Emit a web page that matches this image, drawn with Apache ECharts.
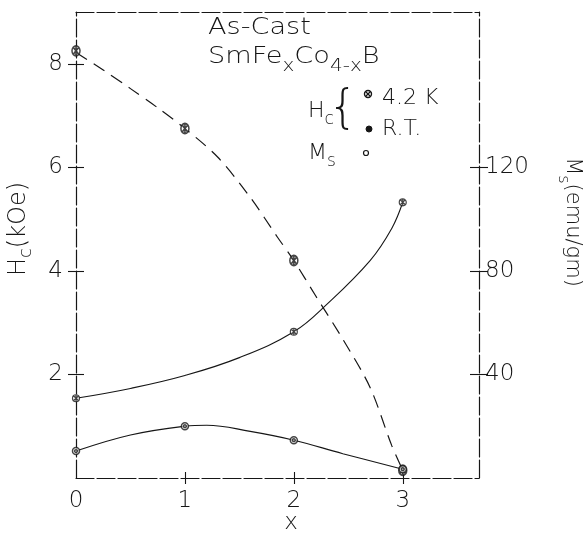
<!DOCTYPE html>
<html>
<head>
<meta charset="utf-8">
<script src="https://cdn.jsdelivr.net/npm/echarts@6/dist/echarts.min.js"></script>
<style>
  html, body { margin: 0; padding: 0; background: #fff; }
  #chart { width: 586px; height: 536px; }
</style>
</head>
<body>
<div id="chart"></div>
<script>
// Tick values on each axis
const xTickValues = [0, 1, 2, 3];
const hcTickValues = [2, 4, 6, 8];
const msTickValues = [40, 80, 120];

// Coercivity at 4.2 K (kOe): measured points and the dashed guide curve
const hcLowX = [0, 1, 2, 3];
const hcLowY = [8.25, 6.75, 4.2, 0.15];
const hcLowCurveX = [0, 0.25, 0.5, 0.75, 1, 1.3, 1.6, 1.85, 2, 2.2, 2.45, 2.7, 2.9, 3];
const hcLowCurveY = [8.22, 7.88, 7.52, 7.15, 6.75, 6.2, 5.42, 4.65, 4.2, 3.52, 2.68, 1.75, 0.62, 0.15];

// Coercivity at room temperature (kOe)
const hcRoomX = [0, 1, 2, 3];
const hcRoomY = [0.52, 1.0, 0.73, 0.17];
const hcRoomCurveX = [0, 0.5, 1, 1.2, 1.6, 2, 2.45, 3];
const hcRoomCurveY = [0.52, 0.83, 1.0, 1.02, 0.9, 0.73, 0.47, 0.17];

// Saturation magnetization (emu/gm)
const msX = [0, 2, 3];
const msY = [30.8, 56.5, 106.5];
const msCurveX = [0, 0.5, 1, 1.5, 2, 2.3, 2.7, 2.9, 3];
const msCurveY = [30.8, 34.6, 39.6, 46.5, 56.5, 67, 84, 96.5, 106.5];

const pairs = (xs, ys) => xs.map((x, i) => [x, ys[i]]);

const INK = '#161616';
const FONT = "'DejaVu Sans', sans-serif";
const WEIGHT = 'lighter';
const WIDEN = 1.18; // lettering is a little wider than the font
const FRAME = { color: INK, width: 1.2, type: [18, 3] };
const TICK = { color: INK, width: 1.1 };

// circle with a cross inside (4.2 K points)
const crossedCircle = 'path://M10,0 A10,10 0 1,1 9.99,0 Z M2.9,2.9 L17.1,17.1 M17.1,2.9 L2.9,17.1 M10,0 L10,20';
// circle with a dot (room temperature points)
const dottedCircle = 'path://M10,0 A10,10 0 1,1 9.99,0 Z M10,6 A4,4 0 1,1 9.99,6 Z';

const chart = echarts.init(document.getElementById('chart'), null, { renderer: 'canvas' });

const labelStyle = { color: INK, fontFamily: FONT, fontWeight: WEIGHT, fontSize: 23 };

const baseValueAxis = {
  type: 'value',
  splitLine: { show: false },
  axisLine: { show: false, onZero: false }
};

// text with a lowered subscript part
function subText(main, sub, size, tail) {
  const rich = {
    a: { fontFamily: FONT, fontWeight: WEIGHT, fontSize: size, lineHeight: 28, verticalAlign: 'top', fill: INK },
    b: { fontFamily: FONT, fontWeight: WEIGHT, fontSize: Math.round(size * 0.75), lineHeight: 28, verticalAlign: 'bottom', fill: INK }
  };
  return { text: '{a|' + main + '}{b|' + sub + '}' + (tail ? '{a|' + tail + '}' : ''), rich: rich };
}

const leftName = subText('H', 'c', 24, '(kOe)');
const rightName = subText('M', 's', 21, '(emu/gm)');
const keyHc = subText('H', 'c', 22);
const keyMs = subText('M', 's', 22);

const option = {
  backgroundColor: '#fff',
  animation: false,
  grid: { left: 76, right: 107, top: 12, bottom: 58 },
  xAxis: [
    Object.assign({}, baseValueAxis, {
      min: 0, max: 3.7, interval: 1, position: 'bottom',
      axisLine: { show: true, onZero: false, lineStyle: FRAME },
      axisTick: { show: true, inside: false, length: 6, lineStyle: TICK, customValues: [1, 2, 3] },
      axisLabel: Object.assign({ margin: 12, customValues: xTickValues, formatter: v => String(v) }, labelStyle)
    }),
    Object.assign({}, baseValueAxis, {
      min: 0, max: 3.7, interval: 1, position: 'bottom',
      axisTick: { show: true, inside: true, length: 6, lineStyle: TICK, customValues: [1, 2, 3] },
      axisLabel: { show: false }
    }),
    Object.assign({}, baseValueAxis, {
      min: 0, max: 3.7, interval: 1, position: 'top',
      axisLine: { show: true, onZero: false, lineStyle: FRAME },
      axisTick: { show: false },
      axisLabel: { show: false }
    })
  ],
  yAxis: [
    Object.assign({}, baseValueAxis, {
      min: 0, max: 9, interval: 1, position: 'left',
      axisLine: { show: true, onZero: false, lineStyle: FRAME },
      axisTick: { show: true, inside: false, length: 8, lineStyle: TICK, customValues: hcTickValues },
      axisLabel: Object.assign({ margin: 13, customValues: hcTickValues }, labelStyle)
    }),
    Object.assign({}, baseValueAxis, {
      min: 0, max: 9, interval: 1, position: 'left',
      axisTick: { show: true, inside: true, length: 8, lineStyle: TICK, customValues: hcTickValues },
      axisLabel: { show: false }
    }),
    Object.assign({}, baseValueAxis, {
      min: 0, max: 180, interval: 20, position: 'right',
      axisLine: { show: true, onZero: false, lineStyle: FRAME },
      axisTick: { show: true, inside: false, length: 9, lineStyle: TICK, customValues: msTickValues },
      axisLabel: Object.assign({ margin: 6, customValues: msTickValues }, labelStyle)
    }),
    Object.assign({}, baseValueAxis, {
      min: 0, max: 180, interval: 20, position: 'right',
      axisTick: { show: true, inside: true, length: 9, lineStyle: TICK, customValues: msTickValues },
      axisLabel: { show: false }
    })
  ],
  series: [
    {
      name: 'Hc 4.2 K curve', type: 'line', xAxisIndex: 0, yAxisIndex: 0,
      data: pairs(hcLowCurveX, hcLowCurveY), smooth: 0.3, symbol: 'none',
      lineStyle: { color: INK, width: 1.2, type: [13, 8] }, z: 2
    },
    {
      name: 'Hc 4.2 K', type: 'scatter', xAxisIndex: 0, yAxisIndex: 0,
      data: pairs(hcLowX, hcLowY), symbol: crossedCircle, symbolSize: [8, 10],
      itemStyle: { color: '#fff', borderColor: INK, borderWidth: 1.7 }, z: 4
    },
    {
      name: 'Hc R.T. curve', type: 'line', xAxisIndex: 0, yAxisIndex: 0,
      data: pairs(hcRoomCurveX, hcRoomCurveY), smooth: 0.4, symbol: 'none',
      lineStyle: { color: INK, width: 1.1 }, z: 2
    },
    {
      name: 'Hc R.T.', type: 'scatter', xAxisIndex: 0, yAxisIndex: 0,
      data: pairs(hcRoomX, hcRoomY), symbol: dottedCircle, symbolSize: 7,
      itemStyle: { color: '#fff', borderColor: INK, borderWidth: 1.5 }, z: 4
    },
    {
      name: 'Ms curve', type: 'line', xAxisIndex: 0, yAxisIndex: 2,
      data: pairs(msCurveX, msCurveY), smooth: 0.4, symbol: 'none',
      lineStyle: { color: INK, width: 1.1 }, z: 2
    },
    {
      name: 'Ms', type: 'scatter', xAxisIndex: 0, yAxisIndex: 2,
      data: pairs(msX, msY), symbol: crossedCircle, symbolSize: 7,
      itemStyle: { color: '#fff', borderColor: INK, borderWidth: 1.2 }, z: 4
    }
  ],
  graphic: [
    // axis titles
    {
      type: 'text', x: 21, y: 229, rotation: Math.PI / 2, z: 10,
      style: { text: leftName.text, rich: leftName.rich, fill: INK, align: 'center', verticalAlign: 'middle' }
    },
    {
      type: 'text', x: 569, y: 222, rotation: -Math.PI / 2, z: 10,
      style: { text: rightName.text, rich: rightName.rich, fill: INK, align: 'center', verticalAlign: 'middle' }
    },
    {
      type: 'text', x: 291, y: 523, z: 10,
      style: { text: 'x', fill: INK, fontFamily: FONT, fontWeight: WEIGHT, fontSize: 23, align: 'center', verticalAlign: 'middle' }
    },
    // alloy annotation
    {
      type: 'text', x: 208, y: 17, scaleX: WIDEN, z: 10,
      style: { text: 'As-Cast', fill: INK, fontFamily: FONT, fontWeight: WEIGHT, fontSize: 23, align: 'left', verticalAlign: 'top' }
    },
    {
      type: 'text', x: 208, y: 46, scaleX: WIDEN, z: 10,
      style: {
        text: '{a|SmFe}{b|x}{a|Co}{b|4-x}{a|B}', fill: INK, align: 'left', verticalAlign: 'top',
        rich: {
          a: { fontFamily: FONT, fontWeight: WEIGHT, fontSize: 23, lineHeight: 29, verticalAlign: 'top', fill: INK },
          b: { fontFamily: FONT, fontWeight: WEIGHT, fontSize: 17, lineHeight: 29, verticalAlign: 'bottom', fill: INK }
        }
      }
    },
    // key
    {
      type: 'text', x: 308, y: 100, z: 10,
      style: { text: keyHc.text, rich: keyHc.rich, fill: INK, align: 'left', verticalAlign: 'top' }
    },
    {
      type: 'text', x: 343, y: 110, z: 10,
      style: { text: '{', fill: INK, fontFamily: FONT, fontWeight: WEIGHT, fontSize: 46, align: 'center', verticalAlign: 'middle' }
    },
    {
      type: 'text', x: 382, y: 98, z: 10,
      style: { text: '4.2 K', fill: INK, fontFamily: FONT, fontWeight: WEIGHT, fontSize: 22, align: 'left', verticalAlign: 'middle' }
    },
    {
      type: 'text', x: 382, y: 129, z: 10,
      style: { text: 'R.T.', fill: INK, fontFamily: FONT, fontWeight: WEIGHT, fontSize: 22, align: 'left', verticalAlign: 'middle' }
    },
    {
      type: 'text', x: 308, y: 142, z: 10,
      style: { text: keyMs.text, rich: keyMs.rich, fill: INK, align: 'left', verticalAlign: 'top' }
    },
    // key symbols
    {
      type: 'circle', z: 10, shape: { cx: 368, cy: 94, r: 3.5 },
      style: { fill: '#fff', stroke: INK, lineWidth: 1.4 }
    },
    {
      type: 'line', z: 11, shape: { x1: 365.5, y1: 91.5, x2: 370.5, y2: 96.5 },
      style: { stroke: INK, lineWidth: 1.2 }
    },
    {
      type: 'line', z: 11, shape: { x1: 370.5, y1: 91.5, x2: 365.5, y2: 96.5 },
      style: { stroke: INK, lineWidth: 1.2 }
    },
    {
      type: 'circle', z: 10, shape: { cx: 369, cy: 129, r: 3 },
      style: { fill: INK, stroke: INK, lineWidth: 1 }
    },
    {
      type: 'circle', z: 10, shape: { cx: 366, cy: 153, r: 2.5 },
      style: { fill: '#fff', stroke: INK, lineWidth: 1.2 }
    }
  ]
};

chart.setOption(option);
</script>
</body>
</html>
